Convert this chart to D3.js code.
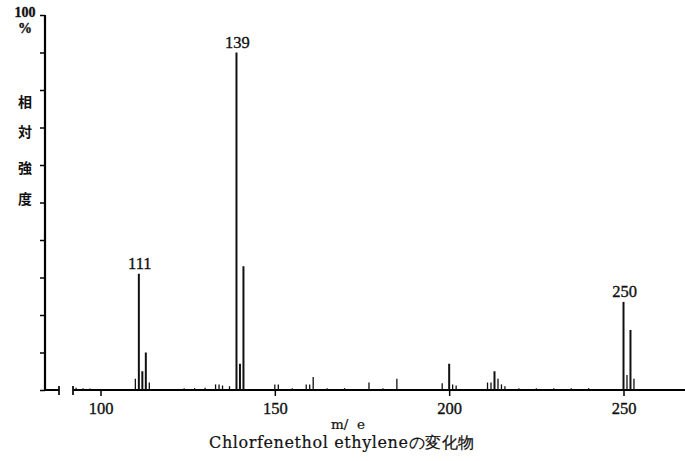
<!DOCTYPE html>
<html>
<head>
<meta charset="utf-8">
<script src="https://cdn.jsdelivr.net/npm/d3@7"></script>
<style>
  body { margin: 0; background: #fff; }
  svg { display: block; }
  text { font-family: "Liberation Serif", "DejaVu Serif", serif; fill: #111; stroke: #111; stroke-width: 0.35; }
  .cjk { font-family: "Noto Sans CJK JP", sans-serif; font-weight: bold; stroke: none; }
  .wide { font-family: "DejaVu Serif", serif; stroke-width: 0.2; }
</style>
</head>
<body>
<div class="plot"></div>
<script>
// mass spectrum: m/e and relative intensity (%)
var mz        = [93, 95, 97, 110, 111, 112, 113, 114, 124, 127, 130, 133, 134, 135, 137, 139, 140, 141,
                 150, 151, 155, 159, 160, 161, 165, 170, 177, 181, 185, 198, 200, 201, 202,
                 211, 212, 213, 214, 215, 216, 220, 225, 230, 235, 240, 250, 251, 252, 253];
var intensity = [0.6, 0.5, 0.4, 3, 31, 5, 10, 2, 0.5, 0.5, 0.6, 1.5, 1.5, 1.2, 1, 90, 7, 33,
                 1.5, 1.5, 0.5, 1.5, 1.5, 3.5, 0.5, 0.5, 2, 0.5, 3, 1.8, 7, 1.5, 1.2,
                 2, 2, 5, 3, 1.5, 1, 0.5, 0.5, 0.5, 0.5, 0.5, 23.5, 4, 16, 3];
var xTicks = [100, 150, 200, 250];
var yTicks = [0, 10, 20, 30, 40, 50, 60, 70, 80, 90, 100];
var labelled = [111, 139, 250];
var yTitle = ["相", "対", "強", "度"];

var W = 685, H = 461;
var svg = d3.select(".plot").append("svg").attr("width", W).attr("height", H);

var x = d3.scaleLinear().domain([100, 250]).range([100.5, 623.5]);
var y = d3.scaleLinear().domain([0, 100]).range([390, 15]);
var x0 = 45;

// y axis
svg.append("g")
    .attr("transform", "translate(" + x0 + ",0)")
    .call(d3.axisLeft(y).tickValues(yTicks).tickSize(5).tickFormat(""))
    .call(function(g){
        g.select(".domain").attr("d", "M0," + y(100) + "V" + y(0) + "H14")
            .attr("stroke-width", 2.2).attr("fill", "none");
        g.selectAll(".tick line").attr("stroke-width", 1.5);
    });
// little end tick of the left stub
svg.append("line").attr("x1", x0 + 14).attr("x2", x0 + 14)
    .attr("y1", y(0) - 4).attr("y2", y(0) + 5).attr("stroke", "#111").attr("stroke-width", 1.8);

// x axis
svg.append("g")
    .attr("transform", "translate(0," + y(0) + ")")
    .call(d3.axisBottom(x).tickValues(xTicks).tickSize(6).tickPadding(6))
    .call(function(g){
        g.select(".domain").attr("d", "M" + 73 + ",0H" + W)
            .attr("stroke-width", 2.2).attr("fill", "none");
        g.selectAll(".tick line").attr("stroke-width", 1.5);
        g.selectAll(".tick text").attr("font-size", 16.5)
            .attr("fill", "#111").attr("dy", "0.72em");
    });
svg.append("line").attr("x1", 73).attr("x2", 73)
    .attr("y1", y(0) - 4).attr("y2", y(0) + 5).attr("stroke", "#111").attr("stroke-width", 1.8);

// peaks
svg.append("g").selectAll("line").data(mz).join("line")
    .attr("x1", function(d){ return x(d); })
    .attr("x2", function(d){ return x(d); })
    .attr("y1", y(0))
    .attr("y2", function(d, i){ return y(intensity[i]); })
    .attr("stroke", "#111")
    .attr("stroke-width", function(d, i){ return intensity[i] > 4 ? 2 : 1.3; });

// peak labels
svg.append("g").selectAll("text").data(labelled).join("text")
    .attr("x", function(d){ return x(d) + 1; })
    .attr("y", function(d){ return y(intensity[mz.indexOf(d)]) - 5; })
    .attr("text-anchor", "middle")
    .attr("font-size", 16.5)
    .text(function(d){ return d; });

// y title
svg.append("text").attr("x", 25).attr("y", 17).attr("text-anchor", "middle")
    .attr("font-size", 14).attr("font-weight", "bold").text("100");
svg.append("text").attr("x", 25).attr("y", 33).attr("text-anchor", "middle")
    .attr("font-size", 14).attr("font-weight", "bold").text("%");
var yPos = [107, 137, 173, 204];
svg.append("g").selectAll("text").data(yTitle).join("text")
    .attr("class", "cjk")
    .attr("x", 25)
    .attr("y", function(d, i){ return yPos[i]; })
    .attr("text-anchor", "middle")
    .attr("font-size", 14)
    .text(function(d){ return d; });

// x title and caption
svg.append("text").attr("class", "wide").attr("x", 348).attr("y", 429).attr("text-anchor", "middle")
    .attr("font-size", 13.5).attr("xml:space", "preserve").text("m/  e");
svg.append("text").attr("class", "wide").attr("x", 342).attr("y", 448).attr("text-anchor", "middle")
    .attr("font-size", 16).attr("letter-spacing", 0.6)
    .text("Chlorfenethol ethyleneの変化物");
</script>
</body>
</html>
